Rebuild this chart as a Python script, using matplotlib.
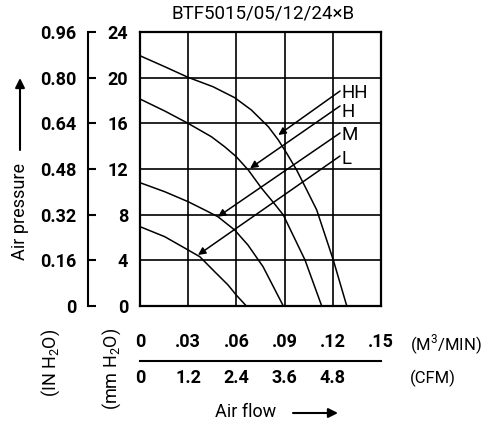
import matplotlib
matplotlib.use('Agg')
import matplotlib.pyplot as plt

plt.rcParams['font.family'] = ['Roboto', 'DejaVu Sans']
plt.rcParams['mathtext.fontset'] = 'custom'
plt.rcParams['mathtext.rm'] = 'Roboto'
plt.rcParams['mathtext.bf'] = 'Roboto:bold'

# curves: air flow (m3/min) vs pressure (mm H2O)
hh_x = [0, 0.0154, 0.0299, 0.0454, 0.0589, 0.0693, 0.0799, 0.0861, 0.0913, 0.0975, 0.1038, 0.1100, 0.1203, 0.1287]
hh_y = [21.92, 20.96, 20.03, 19.21, 18.25, 17.17, 15.70, 14.54, 13.38, 11.91, 10.16, 8.41, 4.03, 0]
h_x = [0, 0.0154, 0.0299, 0.0444, 0.0527, 0.0599, 0.0674, 0.0757, 0.0840, 0.0892, 0.1027, 0.1131]
h_y = [18.13, 17.08, 16.00, 14.83, 13.95, 13.08, 11.91, 10.31, 8.9, 7.97, 4.03, 0]
m_x = [0, 0.0154, 0.0299, 0.0403, 0.0485, 0.0589, 0.0672, 0.0766, 0.0892]
m_y = [10.80, 10.01, 9.14, 8.41, 7.82, 6.66, 5.34, 3.44, 0]
l_x = [0, 0.0154, 0.0299, 0.0372, 0.0465, 0.0548, 0.0599, 0.0662]
l_y = [6.95, 6.07, 4.91, 4.32, 3.00, 1.84, 0.96, 0]

speed_labels = ['HH', 'H', 'M', 'L']
label_y = [18.66, 17.0, 14.98, 12.88]
arrow_from = [(0.1245, 18.83), (0.1245, 17.52), (0.1245, 15.15), (0.1245, 13.14)]
arrow_to = [(0.0861, 14.98), (0.0685, 12.06), (0.0485, 7.82), (0.0361, 4.47)]

mm_ticks = [0, 4, 8, 12, 16, 20, 24]
in_ticks = [0, 0.16, 0.32, 0.48, 0.64, 0.80, 0.96]
in_labels = ['0', '0.16', '0.32', '0.48', '0.64', '0.80', '0.96']
flow_ticks = [0, 0.03, 0.06, 0.09, 0.12, 0.15]
m3_labels = ['0', '.03', '.06', '.09', '.12', '.15']
cfm_labels = ['0', '1.2', '2.4', '3.6', '4.8', '']

W, H = 488, 425
fig = plt.figure(figsize=(W / 100, H / 100), dpi=100)
ax = fig.add_axes([140 / W, 119 / H, 241 / W, 274 / H])

for xs, ys in [(hh_x, hh_y), (h_x, h_y), (m_x, m_y), (l_x, l_y)]:
    ax.plot(xs, ys, color='black', lw=1.1)

ax.set_xlim(0, 0.15)
ax.set_ylim(0, 24)
ax.set_xticks(flow_ticks)
ax.set_yticks(mm_ticks)
ax.grid(True, color='black', lw=1.2)
ax.tick_params(axis='x', length=0, labelbottom=False)
ax.tick_params(axis='y', length=0, pad=8.5, labelsize=13)
for lab in ax.get_yticklabels():
    lab.set_fontweight('bold')
for s in ax.spines.values():
    s.set_linewidth(1.6)

for name, ly, p0, p1 in zip(speed_labels, label_y, arrow_from, arrow_to):
    ax.annotate('', xy=p1, xytext=p0,
                arrowprops=dict(arrowstyle='-|>', lw=1.1, color='black', mutation_scale=11,
                                shrinkA=0, shrinkB=0))
    ax.text(0.1257, ly, name, fontsize=13.5, va='center', ha='left')

# outer pressure scale (IN H2O)
sec = ax.secondary_yaxis(-52 / 241, functions=(lambda y: y * 0.04, lambda y: y / 0.04))
sec.set_yticks(in_ticks, in_labels)
sec.tick_params(direction='in', length=6, width=1.5, pad=8.5, labelsize=13)
for lab in sec.get_yticklabels():
    lab.set_fontweight('bold')
sec.spines['left'].set_linewidth(1.5)

# flow scale below the chart
axb = fig.add_axes([140 / W, (H - 361) / H, 241 / W, 0.0001])
axb.set_xlim(0, 0.15)
axb.set_yticks([])
for k in ['top', 'left', 'right']:
    axb.spines[k].set_visible(False)
axb.spines['bottom'].set_linewidth(1.5)
axb.set_xticks(flow_ticks, cfm_labels)
axb.set_xticks(flow_ticks[1:-1], minor=True)
axb.tick_params(axis='x', which='major', length=0, pad=6, labelsize=13)
axb.tick_params(axis='x', which='minor', direction='in', length=6, width=1.5)
for lab in axb.get_xticklabels():
    lab.set_fontweight('bold')
axt = axb.twiny()
axt.set_xlim(0, 0.15)
for k in axt.spines:
    axt.spines[k].set_visible(False)
axt.set_xticks(flow_ticks, m3_labels)
axt.tick_params(axis='x', length=0, pad=7, labelsize=13)
for lab in axt.get_xticklabels():
    lab.set_fontweight('bold')

fig.text(263 / W, 1 - 14 / H, 'BTF5015/05/12/24×B', fontsize=13.5, ha='center', va='center')
fig.text(410 / W, 1 - 345 / H, '(M$^3$/MIN)', fontsize=12, ha='left', va='center')
fig.text(410 / W, 1 - 378 / H, '(CFM)', fontsize=12, ha='left', va='center')
fig.text(51 / W, 1 - 363 / H, '(IN H$_2$O)', fontsize=13, rotation=90, ha='center', va='center')
fig.text(112 / W, 1 - 369 / H, '(mm H$_2$O)', fontsize=13, rotation=90, ha='center', va='center')
fig.text(20 / W, 1 - 211 / H, 'Air pressure', fontsize=13, rotation=90, ha='center', va='center')
fig.text(246 / W, 1 - 412 / H, 'Air flow', fontsize=13, ha='center', va='center')
ax.annotate('', xy=(20 / W, 1 - 78 / H), xytext=(20 / W, 1 - 150 / H), xycoords='figure fraction',
            arrowprops=dict(arrowstyle='-|>', lw=1.5, color='black', mutation_scale=14,
                            shrinkA=0, shrinkB=0))
ax.annotate('', xy=(338 / W, 1 - 413 / H), xytext=(293 / W, 1 - 413 / H), xycoords='figure fraction',
            arrowprops=dict(arrowstyle='-|>', lw=1.5, color='black', mutation_scale=14,
                            shrinkA=0, shrinkB=0))

fig.savefig('out.png', dpi=100)
